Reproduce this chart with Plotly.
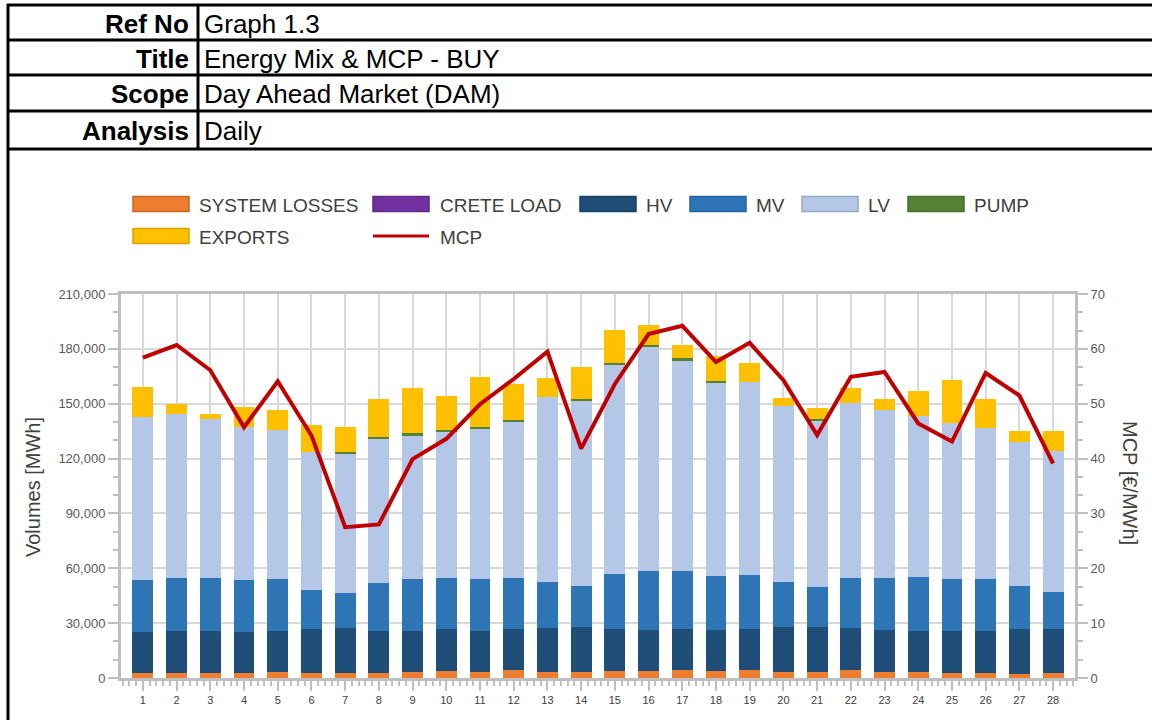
import plotly.graph_objects as go

days = list(range(1, 29))
system_losses = [2900, 2900, 2900, 2900, 3400, 2900, 2900, 2900, 3400, 4000, 3400, 4500, 3400, 3400,
                 4000, 4000, 4500, 4000, 4500, 3400, 3400, 4500, 3400, 3400, 2900, 2900, 2300, 2900]
crete_load = [0] * 28
hv = [22250, 22800, 22800, 22250, 22300, 23900, 24450, 22800, 22300, 22800, 22300, 22300, 23950, 24500,
      22800, 22250, 22300, 22250, 22300, 24500, 24500, 22850, 22850, 22300, 22800, 22800, 24500, 23900]
mv = [28450, 29000, 29000, 28450, 28400, 21300, 19150, 26300, 28400, 27900, 28400, 27900, 25150, 22400,
      30100, 32250, 31700, 29550, 29500, 24600, 21900, 27350, 28450, 29500, 28400, 28400, 23500, 20400]
lv = [89100, 89800, 86900, 83700, 81700, 75700, 76000, 78700, 78200, 79800, 82200, 85300, 101200, 101400,
      114300, 122500, 114900, 105500, 105700, 96400, 90900, 95700, 92000, 88200, 85400, 82800, 78800, 76900]
pump = [0, 0, 0, 0, 0, 0, 1100, 1100, 1700, 1100, 1100, 1100, 0, 1100,
        1100, 1100, 1600, 1100, 0, 0, 1100, 0, 0, 0, 0, 0, 0, 0]
exports = [16400, 5300, 2800, 10900, 10800, 14600, 13700, 20800, 24600, 18600, 27200, 19700, 10400, 17300,
           18000, 11000, 7100, 13700, 10300, 4200, 5900, 8200, 5900, 13600, 23500, 15700, 6000, 11000]
mcp = [58.4, 60.7, 56.1, 45.7, 54.1, 44.2, 27.5, 28.0, 39.9, 43.6, 49.9, 54.5, 59.5, 41.8,
       53.6, 62.7, 64.2, 57.6, 61.1, 54.3, 44.3, 54.9, 55.8, 46.4, 43.1, 55.6, 51.5, 39.1]

header_labels = ["Ref No", "Title", "Scope", "Analysis"]
header_values = ["Graph 1.3", "Energy Mix & MCP - BUY", "Day Ahead Market (DAM)", "Daily"]

series = [
    ("SYSTEM LOSSES", system_losses, "#ED7D31"),
    ("CRETE LOAD", crete_load, "#7030A0"),
    ("HV", hv, "#1F4E79"),
    ("MV", mv, "#2E75B6"),
    ("LV", lv, "#B4C7E7"),
    ("PUMP", pump, "#548235"),
    ("EXPORTS", exports, "#FFC000"),
]
legend_border = ["#C9662A", "#5E2888", "#1A4267", "#2763A0", "#98A9C6", "#46702D", "#D9A300"]
MCP_COLOR = "#C00000"

W, H = 1152, 720
L, R, T, B = 121, 1075, 294, 678  # plot area in pixels


def px(x):
    return (x - L) / (R - L)


def py(y):
    return (B - y) / (B - T)


fig = go.Figure()
for name, vals, col in series:
    fig.add_trace(go.Bar(x=days, y=vals, name=name, marker=dict(color=col, line=dict(width=0)),
                         width=0.62, showlegend=False))
fig.add_trace(go.Scatter(x=days, y=mcp, name="MCP", yaxis="y2", mode="lines",
                         line=dict(color=MCP_COLOR, width=4), showlegend=False))

axis_font = dict(family="Liberation Sans, Arial", size=13, color="#595959")
fig.update_layout(
    width=W, height=H,
    margin=dict(l=L, r=W - R, t=T, b=H - B, pad=0),
    paper_bgcolor="white", plot_bgcolor="white",
    barmode="stack",
    showlegend=False,
    xaxis=dict(range=[0.35, 28.65], tickvals=days, ticktext=[str(d) for d in days],
               showgrid=True, gridcolor="#D9D9D9", gridwidth=2,
               showline=True, linecolor="#BFBFBF", linewidth=3, mirror=True,
               ticks="outside", ticklen=10, tickwidth=2, tickcolor="#BFBFBF",
               minor=dict(ticks="outside", ticklen=5, tickwidth=2, tickcolor="#BFBFBF", dtick=0.2, tick0=0,
                          showgrid=False),
               tickfont=dict(family="Liberation Sans, Arial", size=11, color="#404040"), zeroline=False),
    yaxis=dict(range=[0, 210000], dtick=30000, tickformat=",",
               showgrid=True, gridcolor="#D9D9D9", gridwidth=2,
               showline=True, linecolor="#BFBFBF", linewidth=3,
               ticks="outside", ticklen=10, tickwidth=2, tickcolor="#BFBFBF",
               minor=dict(ticks="outside", ticklen=5, tickwidth=2, tickcolor="#BFBFBF", dtick=10000,
                          showgrid=False),
               tickfont=axis_font, zeroline=False),
    yaxis2=dict(range=[0, 70], dtick=10, overlaying="y", side="right",
                showgrid=False, showline=True, linecolor="#BFBFBF", linewidth=3,
                ticks="outside", ticklen=10, tickwidth=2, tickcolor="#BFBFBF",
                minor=dict(ticks="outside", ticklen=5, tickwidth=2, tickcolor="#BFBFBF", dtick=10 / 3),
                tickfont=axis_font, zeroline=False),
)

shapes = []
annotations = []

# header table
row_lines = [5, 40, 75, 111, 149]
for yl in row_lines:
    shapes.append(dict(type="line", xref="paper", yref="paper", x0=px(7), x1=px(1160), y0=py(yl), y1=py(yl),
                       line=dict(color="black", width=3)))
shapes.append(dict(type="line", xref="paper", yref="paper", x0=px(8), x1=px(8), y0=py(4), y1=py(730),
                   line=dict(color="black", width=3)))
shapes.append(dict(type="line", xref="paper", yref="paper", x0=px(198), x1=px(198), y0=py(4), y1=py(149),
                   line=dict(color="black", width=3)))
for i, (lab, val) in enumerate(zip(header_labels, header_values)):
    yc = (row_lines[i] + row_lines[i + 1]) / 2 + 1
    annotations.append(dict(xref="paper", yref="paper", x=px(191), y=py(yc), text="<b>%s</b>" % lab,
                            showarrow=False, xanchor="right", yanchor="middle",
                            font=dict(family="Liberation Sans, Arial", size=26, color="black")))
    annotations.append(dict(xref="paper", yref="paper", x=px(202), y=py(yc), text=val,
                            showarrow=False, xanchor="left", yanchor="middle",
                            font=dict(family="Liberation Sans, Arial", size=26, color="black")))

# legend (drawn manually)
legend_font = dict(family="Liberation Sans, Arial", size=19, color="#404040")
legend_items = [
    (0, 133, 197), (1, 373, 438), (2, 580, 644), (3, 690, 754), (4, 802, 866), (5, 908, 972),
    (6, 133, 197),
]
legend_rows = [204, 204, 204, 204, 204, 204, 236]
for (idx, sx, tx), yr in zip(legend_items, legend_rows):
    name, _, col = series[idx]
    shapes.append(dict(type="rect", xref="paper", yref="paper", x0=px(sx), x1=px(sx + 56),
                       y0=py(yr - 7.5), y1=py(yr + 7.5), fillcolor=col,
                       line=dict(color=legend_border[idx], width=1.5)))
    annotations.append(dict(xref="paper", yref="paper", x=px(tx), y=py(yr + 1), text=name, showarrow=False,
                            xanchor="left", yanchor="middle", font=legend_font))
shapes.append(dict(type="line", xref="paper", yref="paper", x0=px(373), x1=px(429), y0=py(236), y1=py(236),
                   line=dict(color=MCP_COLOR, width=3)))
annotations.append(dict(xref="paper", yref="paper", x=px(438), y=py(237), text="MCP", showarrow=False,
                        xanchor="left", yanchor="middle", font=legend_font))

# axis titles
annotations.append(dict(xref="paper", yref="paper", x=px(33), y=py(487), text="Volumes [MWh]", textangle=-90,
                        showarrow=False, xanchor="center", yanchor="middle",
                        font=dict(family="Liberation Sans, Arial", size=20, color="#404040")))
annotations.append(dict(xref="paper", yref="paper", x=px(1130), y=py(483), text="MCP [€/MWh]", textangle=90,
                        showarrow=False, xanchor="center", yanchor="middle",
                        font=dict(family="Liberation Sans, Arial", size=20, color="#404040")))

fig.update_layout(shapes=shapes, annotations=annotations)
fig.write_html("out.html", config={"displayModeBar": False},
               post_script="document.body.style.margin='0';document.body.style.overflow='hidden';")
